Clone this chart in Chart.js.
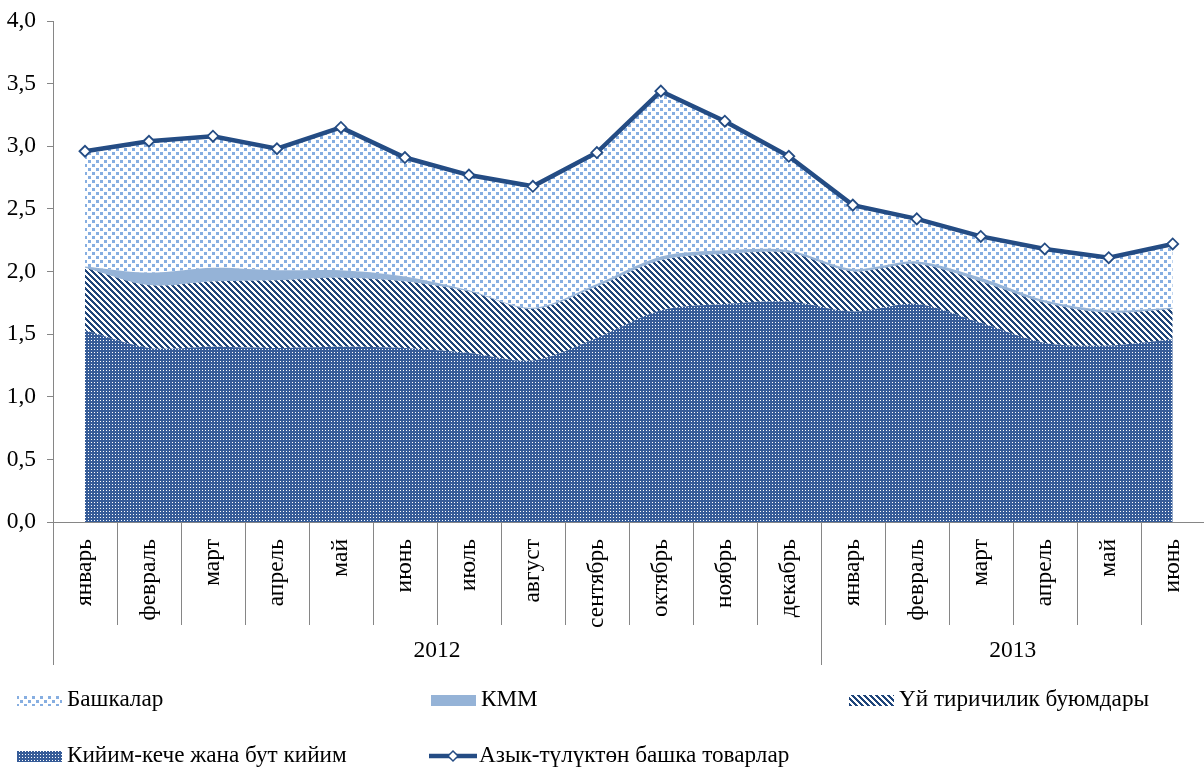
<!DOCTYPE html>
<html>
<head>
<meta charset="utf-8">
<script src="https://cdn.jsdelivr.net/npm/chart.js@4/dist/chart.umd.min.js"></script>
<style>
  html, body { margin: 0; padding: 0; background: #fff; overflow: hidden; }
  #wrap { position: relative; width: 1212px; height: 769px; }
</style>
</head>
<body>
<div id="wrap"><canvas id="chart" width="1212" height="769"></canvas></div>
<script>
const months = ['январь', 'февраль', 'март', 'апрель', 'май', 'июнь', 'июль', 'август', 'сентябрь',
  'октябрь', 'ноябрь', 'декабрь', 'январь', 'февраль', 'март', 'апрель', 'май', 'июнь'];
const years = ['2012', '2013'];
const yearSpans = [12, 6];

// stacked components, bottom to top
const clothing = [1.53, 1.39, 1.40, 1.39, 1.40, 1.39, 1.35, 1.29, 1.47, 1.69, 1.74, 1.76, 1.68, 1.74, 1.59, 1.43, 1.41, 1.46];
const household = [0.50, 0.50, 0.52, 0.54, 0.55, 0.53, 0.49, 0.41, 0.41, 0.40, 0.40, 0.39, 0.32, 0.32, 0.33, 0.32, 0.26, 0.24];
const fuel = [0.01, 0.10, 0.11, 0.08, 0.06, 0.04, 0.01, 0.01, 0.02, 0.03, 0.03, 0.02, 0.02, 0.02, 0.03, 0.02, 0.02, 0.01];
const others = [0.92, 1.05, 1.05, 0.97, 1.14, 0.95, 0.92, 0.97, 1.05, 1.32, 1.03, 0.75, 0.51, 0.34, 0.33, 0.41, 0.42, 0.51];
// line: all non-food goods
const nonFood = [2.96, 3.04, 3.08, 2.98, 3.15, 2.91, 2.77, 2.68, 2.95, 3.44, 3.20, 2.92, 2.53, 2.42, 2.28, 2.18, 2.11, 2.22];

const FONT = 'Liberation Serif, Times New Roman, serif';
const AXIS = '#868686';
const LINE = '#244c84';

const canvas = document.getElementById('chart');
const ctx = canvas.getContext('2d');

function makePattern(size, draw) {
  const c = document.createElement('canvas');
  c.width = c.height = size;
  draw(c.getContext('2d'), size);
  return ctx.createPattern(c, 'repeat');
}

// light blue dots
const dotPattern = makePattern(8, (g) => {
  g.fillStyle = '#fff';
  g.fillRect(0, 0, 8, 8);
  g.fillStyle = '#86aee1';
  g.fillRect(0, 0, 3, 3);
  g.fillRect(4, 4, 3, 3);
});

// dark diagonal stripes "\"
const stripePattern = makePattern(6, (g, n) => {
  g.fillStyle = '#fff';
  g.fillRect(0, 0, n, n);
  g.fillStyle = '#1f457a';
  for (let y = 0; y < n; y++) {
    for (let x = 0; x < n; x++) {
      if (((x - y) % n + n) % n < 3) g.fillRect(x, y, 1, 1);
    }
  }
});

// blue with small white dots
const clothPattern = makePattern(3, (g) => {
  g.fillStyle = '#365c98';
  g.fillRect(0, 0, 3, 3);
  g.fillStyle = '#ffffff';
  g.fillRect(1, 1, 1, 1);
});

const groupAxis = {
  id: 'groupAxis',
  afterDraw(chart) {
    const x = chart.scales.x;
    const c = chart.ctx;
    const n = months.length;
    const step = x.getPixelForValue(1) - x.getPixelForValue(0);
    const top = x.top;
    const edges = [0];
    yearSpans.forEach(s => edges.push(edges[edges.length - 1] + s));
    c.save();
    c.strokeStyle = AXIS;
    c.lineWidth = 1;
    for (let i = 0; i <= n; i++) {
      const px = Math.round(x.getPixelForValue(0) - step / 2 + i * step) + 0.5;
      const long = edges.includes(i);
      c.beginPath();
      c.moveTo(px, top);
      c.lineTo(px, top + (long ? 143 : 103));
      c.stroke();
    }
    c.fillStyle = '#000';
    c.font = '23.5px ' + FONT;
    c.textAlign = 'center';
    c.textBaseline = 'middle';
    years.forEach((yr, k) => {
      const a = x.getPixelForValue(0) - step / 2 + edges[k] * step;
      const b = x.getPixelForValue(0) - step / 2 + edges[k + 1] * step;
      c.fillText(yr, (a + b) / 2, top + 129);
    });
    c.restore();
  }
};

const legendItems = [
  { text: 'Башкалар', fill: dotPattern, x: 17, y: 700 },
  { text: 'КММ', fill: '#95b3d7', x: 431, y: 700 },
  { text: 'Үй тиричилик буюмдары', fill: stripePattern, x: 849, y: 700 },
  { text: 'Кийим-кече жана бут кийим', fill: clothPattern, x: 17, y: 756 },
  { text: 'Азык-түлүктөн башка товарлар', line: true, x: 429, y: 756 }
];

const bottomLegend = {
  id: 'bottomLegend',
  afterDraw(chart) {
    const c = chart.ctx;
    c.save();
    c.font = '23.2px ' + FONT;
    c.textBaseline = 'middle';
    c.textAlign = 'left';
    legendItems.forEach(it => {
      if (it.line) {
        c.strokeStyle = LINE;
        c.lineWidth = 4.5;
        c.beginPath();
        c.moveTo(it.x, it.y);
        c.lineTo(it.x + 48, it.y);
        c.stroke();
        const mx = it.x + 24;
        c.beginPath();
        c.moveTo(mx, it.y - 5);
        c.lineTo(mx + 5, it.y);
        c.lineTo(mx, it.y + 5);
        c.lineTo(mx - 5, it.y);
        c.closePath();
        c.fillStyle = '#fff';
        c.fill();
        c.lineWidth = 1.5;
        c.stroke();
      } else {
        c.fillStyle = it.fill;
        c.fillRect(it.x, it.y - 5, 45, 11);
      }
      c.fillStyle = '#000';
      c.fillText(it.text, it.x + 50, it.y);
    });
    c.restore();
  }
};

const area = {
  stack: 'parts',
  borderWidth: 0,
  pointRadius: 0,
  tension: 0.3,
  order: 1
};

new Chart(ctx, {
  type: 'line',
  data: {
    labels: months,
    datasets: [
      { ...area, label: 'Кийим-кече жана бут кийим', data: clothing, backgroundColor: clothPattern, fill: 'origin' },
      { ...area, label: 'Үй тиричилик буюмдары', data: household, backgroundColor: stripePattern, fill: '-1' },
      { ...area, label: 'КММ', data: fuel, backgroundColor: '#95b3d7', fill: '-1' },
      { ...area, label: 'Башкалар', data: others, backgroundColor: dotPattern, fill: '-1', tension: 0 },
      {
        label: 'Азык-түлүктөн башка товарлар',
        data: nonFood,
        stack: 'line',
        order: 0,
        fill: false,
        borderColor: LINE,
        borderWidth: 4.5,
        tension: 0,
        pointStyle: 'rectRot',
        pointRadius: 5.5,
        pointBackgroundColor: '#fff',
        pointBorderColor: LINE,
        pointBorderWidth: 1.8
      }
    ]
  },
  options: {
    responsive: false,
    animation: false,
    events: [],
    layout: { padding: { left: 0, top: 21, right: 4, bottom: 101 } },
    plugins: { legend: { display: false }, tooltip: { enabled: false } },
    scales: {
      x: {
        offset: true,
        grid: { display: false },
        border: { display: true, color: AXIS, width: 1 },
        ticks: { autoSkip: false, minRotation: 90, maxRotation: 90, padding: 9, color: '#000', font: { family: FONT, size: 23.5 } },
        afterFit: (s) => { s.height = 146; }
      },
      y: {
        stacked: true,
        min: 0,
        max: 4,
        ticks: {
          stepSize: 0.5,
          padding: 11,
          color: '#000',
          font: { family: FONT, size: 23.5 },
          callback: (v) => v.toFixed(1).replace('.', ',')
        },
        grid: { drawOnChartArea: false, drawTicks: true, tickLength: 6, color: AXIS },
        border: { display: true, color: AXIS, width: 1 },
        afterFit: (s) => {
          s.width = 53;
          s.paddingTop = 0;
          s.paddingBottom = 0;
        }
      }
    }
  },
  plugins: [groupAxis, bottomLegend]
});
</script>
</body>
</html>
